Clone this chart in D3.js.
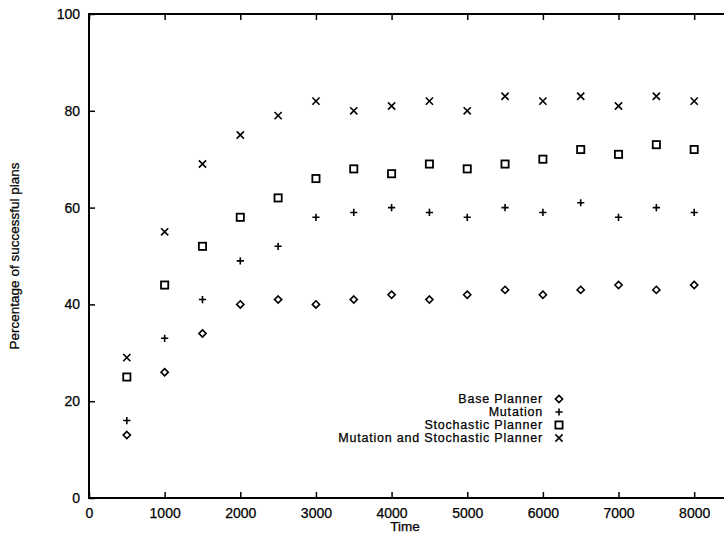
<!DOCTYPE html>
<html>
<head>
<meta charset="utf-8">
<script src="https://cdn.jsdelivr.net/npm/d3@7"></script>
<style>
  body { margin: 0; background: #fff; }
  text { font-family: 'Liberation Sans', Arial, sans-serif; fill: #000; stroke: #000; stroke-width: 0.25px; }
</style>
</head>
<body>
<div id="chart"></div>
<script>
// data
const times = [500, 1000, 1500, 2000, 2500, 3000, 3500, 4000, 4500, 5000, 5500, 6000, 6500, 7000, 7500, 8000]
const basePlanner = [13, 26, 34, 40, 41, 40, 41, 42, 41, 42, 43, 42, 43, 44, 43, 44]
const mutation = [16, 33, 41, 49, 52, 58, 59, 60, 59, 58, 60, 59, 61, 58, 60, 59]
const stochastic = [25, 44, 52, 58, 62, 66, 68, 67, 69, 68, 69, 70, 72, 71, 73, 72]
const mutStoch = [29, 55, 69, 75, 79, 82, 80, 81, 82, 80, 83, 82, 83, 81, 83, 82]
const xTicks = [0, 1000, 2000, 3000, 4000, 5000, 6000, 7000, 8000]
const yTicks = [0, 20, 40, 60, 80, 100]
const seriesNames = ['Base Planner', 'Mutation', 'Stochastic Planner', 'Mutation and Stochastic Planner']

const W = 724, H = 534
const margin = { top: 14, right: -8, bottom: 36, left: 89 }
const width = W - margin.left - margin.right
const height = H - margin.top - margin.bottom

const svg = d3.select('#chart').append('svg')
  .attr('width', W).attr('height', H)
const g = svg.append('g')
  .attr('transform', 'translate(' + margin.left + ',' + margin.top + ')')

const x = d3.scaleLinear().domain([0, 8500]).range([0, width])
const y = d3.scaleLinear().domain([0, 100]).range([height, 0])

// frame lines (top, left, bottom)
g.append('path')
  .attr('d', 'M' + width + ',0H0V' + height + 'H' + width)
  .attr('fill', 'none').attr('stroke', '#000').attr('stroke-width', 2)

// axes: ticks drawn inward
const xAxis = g.append('g').attr('transform', 'translate(0,' + height + ')')
  .call(d3.axisBottom(x).tickValues(xTicks).tickFormat(d3.format('d')).tickSizeInner(-6).tickSizeOuter(0).tickPadding(10))
const xTop = g.append('g')
  .call(d3.axisTop(x).tickValues(xTicks).tickFormat('').tickSizeInner(-6).tickSizeOuter(0))
const yAxis = g.append('g')
  .call(d3.axisLeft(y).tickValues(yTicks).tickSizeInner(-6).tickSizeOuter(0).tickPadding(9))

;[xAxis, xTop, yAxis].forEach(a => {
  a.select('.domain').remove()
  a.selectAll('line').attr('stroke', '#000').attr('stroke-width', 1.5)
  a.selectAll('text').style('font-size', '14px').style('font-family', "'Liberation Sans', Arial, sans-serif")
    .attr('fill', '#000').attr('stroke', '#000').attr('stroke-width', 0.25)
})

// axis titles
svg.append('text')
  .attr('x', 405).attr('y', 531)
  .attr('text-anchor', 'middle')
  .style('font-size', '13.5px')
  .text('Time')
svg.append('text')
  .attr('transform', 'translate(19,' + (margin.top + height / 2) + ') rotate(-90)')
  .attr('text-anchor', 'middle')
  .style('font-size', '13.5px')
  .text('Percentage of successful plans')

// marker shapes
const s = 3.6
function marker(sel, k) {
  if (k === 0) {
    sel.append('path').attr('d', 'M0,' + -s + 'L' + s + ',0L0,' + s + 'L' + -s + ',0Z')
      .attr('fill', 'none').attr('stroke', '#000').attr('stroke-width', 1.6)
  } else if (k === 1) {
    sel.append('path').attr('d', 'M' + -s + ',0H' + s + 'M0,' + -s + 'V' + s)
      .attr('fill', 'none').attr('stroke', '#000').attr('stroke-width', 1.6)
  } else if (k === 2) {
    sel.append('rect').attr('x', -s).attr('y', -s).attr('width', 2 * s).attr('height', 2 * s)
      .attr('fill', 'none').attr('stroke', '#000').attr('stroke-width', 1.8)
  } else {
    sel.append('path').attr('d', 'M' + -s + ',' + -s + 'L' + s + ',' + s + 'M' + -s + ',' + s + 'L' + s + ',' + -s)
      .attr('fill', 'none').attr('stroke', '#000').attr('stroke-width', 1.6)
  }
}

const allSeries = [basePlanner, mutation, stochastic, mutStoch]
allSeries.forEach((vals, k) => {
  g.selectAll('.pt' + k)
    .data(vals.map((v, i) => ({ t: times[i], v: v })))
    .enter()
    .append('g')
    .attr('class', 'pt' + k)
    .attr('transform', d => 'translate(' + x(d.t) + ',' + y(d.v) + ')')
    .each(function() { marker(d3.select(this), k) })
})

// legend
const legend = svg.append('g').attr('transform', 'translate(543,399)')
seriesNames.forEach((name, k) => {
  const row = legend.append('g').attr('transform', 'translate(0,' + k * 13 + ')')
  row.append('text')
    .attr('x', 0).attr('y', 4.4)
    .attr('text-anchor', 'end')
    .style('font-size', '12.5px')
    .style('letter-spacing', '0.8px')
    .text(name)
  const m = row.append('g').attr('transform', 'translate(16,0)')
  marker(m, k)
})
</script>
</body>
</html>
